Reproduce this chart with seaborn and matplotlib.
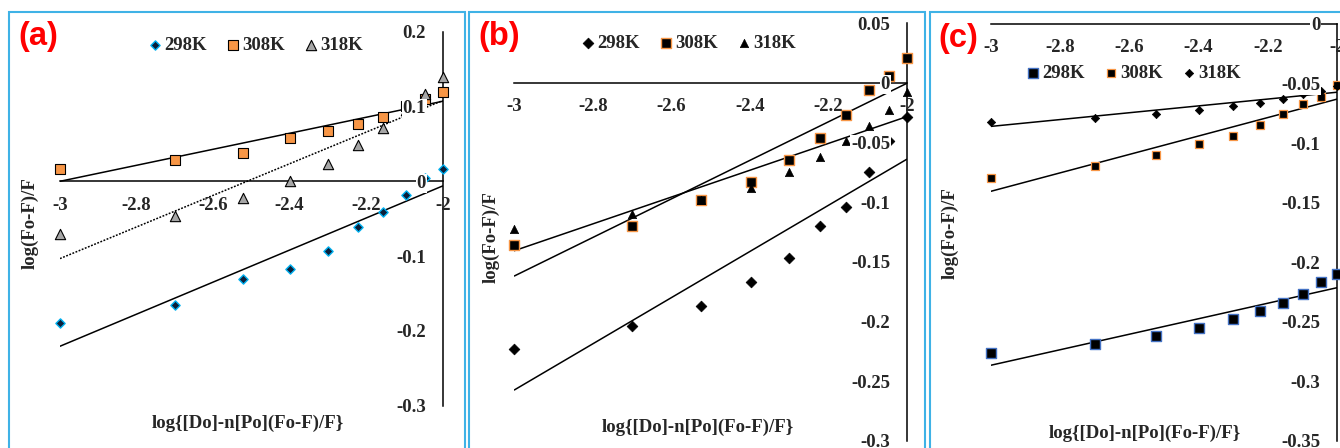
import numpy as np
import seaborn as sns
import matplotlib.pyplot as plt
from matplotlib.patches import Rectangle
from matplotlib.ticker import FuncFormatter, MultipleLocator

# x values: log{[Do]-n[Po](Fo-F)/F}, same for every series
x_vals = [-3.0, -2.699, -2.523, -2.398, -2.301, -2.222, -2.155, -2.097, -2.046, -2.0]
temps = ["298K", "308K", "318K"]

# panel (a)
a_298 = [-0.189, -0.165, -0.131, -0.117, -0.093, -0.061, -0.041, -0.018, 0.005, 0.017]
a_308 = [0.017, 0.028, 0.038, 0.058, 0.067, 0.076, 0.086, 0.100, 0.110, 0.119]
a_318 = [-0.071, -0.047, -0.022, 0.001, 0.023, 0.049, 0.071, 0.095, 0.117, 0.139]
a_fit = [(-0.2205, -0.0062), (0.0, 0.107), (-0.1033, 0.108)]  # line values at x=-3 and x=-2

# panel (b)
b_298 = [-0.223, -0.204, -0.187, -0.167, -0.147, -0.120, -0.104, -0.075, -0.049, -0.029]
b_308 = [-0.136, -0.120, -0.098, -0.083, -0.065, -0.046, -0.027, -0.006, 0.006, 0.021]
b_318 = [-0.123, -0.110, -0.098, -0.088, -0.075, -0.062, -0.049, -0.036, -0.023, -0.008]
b_fit = [(-0.2575, -0.0642), (-0.162, -0.0006), (-0.1408, -0.0285)]

# panel (c)
c_298 = [-0.276, -0.269, -0.262, -0.255, -0.248, -0.241, -0.234, -0.227, -0.217, -0.210]
c_308 = [-0.129, -0.119, -0.110, -0.101, -0.094, -0.085, -0.076, -0.067, -0.061, -0.051]
c_318 = [-0.082, -0.079, -0.076, -0.072, -0.069, -0.066, -0.063, -0.059, -0.056, -0.052]
c_fit = [(-0.2866, -0.2215), (-0.1405, -0.0631), (-0.086, -0.0573)]

sns.set_style("white")
plt.rcParams['font.family'] = ['Liberation Serif', 'DejaVu Serif']
plt.rcParams['font.weight'] = 'bold'

orange = "#F79646"
W, H = 1340, 448
fig = plt.figure(figsize=(W / 100, H / 100), dpi=100)

def px_box(x0, y0, x1, y1):
    return [x0 / W, 1 - y1 / H, (x1 - x0) / W, (y1 - y0) / H]

panels = [
    dict(tag="(a)", box=px_box(60, 31.7, 442.7, 405.7), ylim=(-0.3, 0.2), ystep=0.1,
         series=[a_298, a_308, a_318], fit=a_fit,
         styles=[dict(marker="D", s=22, color="#0B1F3A", edgecolor="#00B0F0", linewidth=1.0),
                 dict(marker="s", s=48, color=orange, edgecolor="black", linewidth=0.8),
                 dict(marker="^", s=55, color="#A6A6A6", edgecolor="black", linewidth=0.8)],
         ls=["-", "-", (0, (1.2, 1.0))],
         frame=(9, 12, 465), tagpos=(38, 37), legpos=(255, 45),
         xlab=(0.491, -0.046), ylab=(-0.078, 0.488)),
    dict(tag="(b)", box=px_box(514.3, 23, 906.7, 440.7), ylim=(-0.3, 0.05), ystep=0.05,
         series=[b_298, b_308, b_318], fit=b_fit,
         styles=[dict(marker="D", s=30, color="black", edgecolor="black", linewidth=0.5),
                 dict(marker="s", s=52, color="black", edgecolor=orange, linewidth=1.0),
                 dict(marker="^", s=36, color="black", edgecolor="black", linewidth=0.5)],
         ls=["-", "-", "-"],
         frame=(469, 12, 925), tagpos=(499, 37), legpos=(688, 43),
         xlab=(0.468, 0.033), ylab=(-0.059, 0.488)),
    dict(tag="(c)", box=px_box(991, 24, 1337, 440.7), ylim=(-0.35, 0.0), ystep=0.05,
         series=[c_298, c_308, c_318], fit=c_fit,
         styles=[dict(marker="s", s=52, color="black", edgecolor="#4472C4", linewidth=1.0),
                 dict(marker="s", s=30, color="black", edgecolor=orange, linewidth=0.9),
                 dict(marker="D", s=18, color="black", edgecolor="black", linewidth=0.5)],
         ls=["-", "-", "-"],
         frame=(930, 12, 1360), tagpos=(958, 38), legpos=(1133, 73),
         xlab=(0.445, 0.018), ylab=(-0.118, 0.498)),
]

fmt = FuncFormatter(lambda v, p: "%g" % round(v, 3))

for p in panels:
    fx0, fy0, fx1 = p["frame"]
    fig.add_artist(Rectangle((fx0 / W, -0.1), (fx1 - fx0) / W, 1 - fy0 / H + 0.1,
                             transform=fig.transFigure, fill=False,
                             edgecolor="#3FB2E6", linewidth=1.5))
    ax = fig.add_axes(p["box"])
    ax.set_facecolor("none")
    ax.set_axisbelow(False)  # tick labels (white boxes) sit over the marks
    for vals, st, temp in zip(p["series"], p["styles"], temps):
        sns.scatterplot(x=x_vals, y=vals, ax=ax, label=temp, clip_on=False, zorder=2.2, **st)
    for (y0, y1), ls in zip(p["fit"], p["ls"]):
        sns.lineplot(x=[-3, -2], y=[y0, y1], ax=ax, color="black", linewidth=1.1,
                     linestyle=ls, zorder=2)
    ax.set_xlim(-3, -2)
    ax.set_ylim(*p["ylim"])
    ax.spines["top"].set_visible(False)
    ax.spines["right"].set_visible(False)
    ax.spines["left"].set_position(("data", -2))
    ax.spines["bottom"].set_position(("data", 0))
    for side in ["left", "bottom"]:
        ax.spines[side].set_linewidth(1.1)
        ax.spines[side].set_color("black")
        ax.spines[side].set_zorder(2.1)
    ax.xaxis.set_major_locator(MultipleLocator(0.2))
    ax.yaxis.set_major_locator(MultipleLocator(p["ystep"]))
    ax.xaxis.set_major_formatter(fmt)
    ax.yaxis.set_major_formatter(fmt)
    ax.tick_params(axis="both", length=0, labelsize=13.5)
    ax.tick_params(axis="y", pad=12)
    ax.tick_params(axis="x", pad=11)
    for t in ax.get_yticklabels():
        t.set_fontweight("bold")
        t.set_bbox(dict(facecolor="white", edgecolor="none", pad=0.5))
    for t in ax.get_xticklabels():
        t.set_fontweight("bold")
    ax.set_xlabel("log{[Do]-n[Po](Fo-F)/F}", fontsize=13.5, fontweight="bold", va="center")
    ax.set_ylabel("log(Fo-F)/F", fontsize=13.5, fontweight="bold", va="center")
    ax.xaxis.set_label_coords(*p["xlab"])
    ax.yaxis.set_label_coords(*p["ylab"])
    lx, ly = p["legpos"]
    ax.legend(loc="center", bbox_to_anchor=(lx / W, 1 - ly / H), bbox_transform=fig.transFigure,
              ncol=3, frameon=False, prop=dict(size=13.5, weight="bold"),
              handletextpad=0.1, columnspacing=1.0, handlelength=0.8, borderaxespad=0)
    tx, ty = p["tagpos"]
    fig.text(tx / W, 1 - ty / H, p["tag"], color="#FF0000", fontsize=23.5, fontweight="bold",
             family="Liberation Sans", ha="center", va="center")

fig.savefig("out.png", dpi=100)
